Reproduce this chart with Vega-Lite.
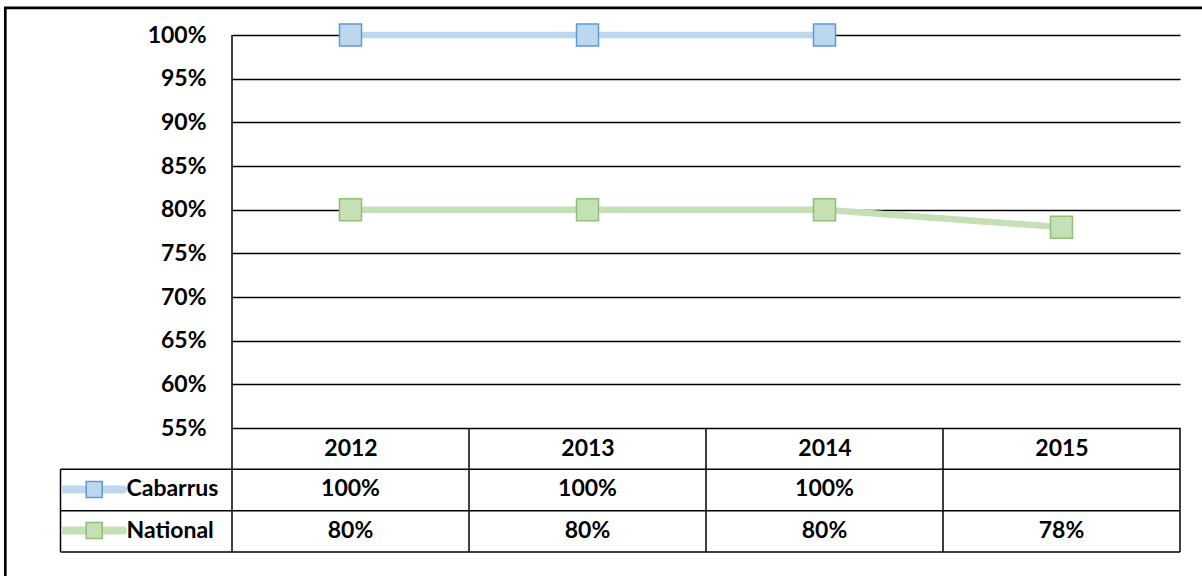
{
  "$schema": "https://vega.github.io/schema/vega-lite/v6.json",
  "width": 948,
  "height": 393,
  "autosize": {"type": "none"},
  "padding": {"left": 232, "top": 35, "right": 22, "bottom": 148},
  "background": "white",
  "config": {"view": {"stroke": null}, "font": "Lato"},
  "datasets": {
    "vals": [
      {"year": 2012, "series": "Cabarrus", "value": 1.0},
      {"year": 2013, "series": "Cabarrus", "value": 1.0},
      {"year": 2014, "series": "Cabarrus", "value": 1.0},
      {"year": 2012, "series": "National", "value": 0.8},
      {"year": 2013, "series": "National", "value": 0.8},
      {"year": 2014, "series": "National", "value": 0.8},
      {"year": 2015, "series": "National", "value": 0.78}
    ],
    "years": [{"year": 2012}, {"year": 2013}, {"year": 2014}, {"year": 2015}],
    "one": [{"k": 1}],
    "cab": [{"series": "Cabarrus"}],
    "nat": [{"series": "National"}]
  },
  "layer": [
    {
      "data": {"name": "vals"},
      "mark": {"type": "line", "strokeWidth": 6.5},
      "encoding": {
        "x": {
          "field": "year", "type": "quantitative",
          "scale": {"domain": [2011.5, 2015.5], "nice": false, "zero": false},
          "axis": {
            "title": null, "values": [2012, 2013, 2014, 2015], "format": "d",
            "labelFontSize": 23, "labelFontWeight": "bold", "labelColor": "black", "labelFont": "Lato",
            "ticks": false, "domain": false, "grid": false, "labelPadding": 20, "labelBaseline": "middle", "labelFlush": false
          }
        },
        "y": {
          "field": "value", "type": "quantitative",
          "scale": {"domain": [0.55, 1.0], "nice": false, "zero": false},
          "axis": {
            "title": null, "values": [0.55, 0.6, 0.65, 0.7, 0.75, 0.8, 0.85, 0.9, 0.95, 1.0], "format": ".0%",
            "grid": true, "gridColor": "black", "gridWidth": 1.5, "gridOpacity": 1,
            "ticks": false, "domain": false, "labelFontSize": 23, "labelFontWeight": "bold",
            "labelColor": "black", "labelFont": "Lato", "labelPadding": 26, "labelFlush": false
          }
        },
        "color": {
          "field": "series", "type": "nominal",
          "scale": {"domain": ["Cabarrus", "National"], "range": ["#BDD7EE", "#C5E0B4"]},
          "legend": null
        }
      }
    },
    {
      "data": {"name": "vals"},
      "mark": {"type": "point", "shape": "square", "size": 484, "filled": true, "strokeWidth": 1.5, "opacity": 1, "fillOpacity": 1, "strokeOpacity": 1},
      "encoding": {
        "x": {"field": "year", "type": "quantitative", "title": null},
        "y": {"field": "value", "type": "quantitative", "title": null},
        "fill": {"field": "series", "type": "nominal", "scale": {"domain": ["Cabarrus", "National"], "range": ["#BDD7EE", "#C5E0B4"]}, "legend": null},
        "stroke": {"field": "series", "type": "nominal", "scale": {"domain": ["Cabarrus", "National"], "range": ["#5B9BD5", "#8FC078"]}, "legend": null}
      }
    },
    {
      "data": {"name": "one"},
      "mark": {"type": "rect", "fillOpacity": 0, "stroke": "black", "strokeWidth": 2.7},
      "encoding": {
        "x": {"datum": 2010.5435, "type": "quantitative"},
        "x2": {"datum": 2015.8},
        "y": {"datum": 1.0311, "type": "quantitative"},
        "y2": {"datum": 0.3}
      }
    },
    {
      "data": {"name": "years"},
      "mark": {"type": "rule", "xOffset": 118.5, "color": "black", "strokeWidth": 1.5},
      "encoding": {
        "x": {"field": "year", "type": "quantitative", "title": null},
        "y": {"datum": 0.55, "type": "quantitative"},
        "y2": {"datum": 0.408}
      }
    },
    {
      "data": {"name": "one"},
      "mark": {"type": "rule", "color": "black", "strokeWidth": 1.5},
      "encoding": {
        "x": {"datum": 2011.5, "type": "quantitative"},
        "y": {"datum": 1.0, "type": "quantitative"},
        "y2": {"datum": 0.408}
      }
    },
    {
      "data": {"name": "one"},
      "mark": {"type": "rule", "color": "black", "strokeWidth": 1.5},
      "encoding": {
        "x": {"datum": 2010.7764, "type": "quantitative"},
        "y": {"datum": 0.5027, "type": "quantitative"},
        "y2": {"datum": 0.408}
      }
    },
    {
      "data": {"name": "one"},
      "mark": {"type": "rule", "color": "black", "strokeWidth": 1.5},
      "encoding": {
        "x": {"datum": 2010.7764, "type": "quantitative"},
        "x2": {"datum": 2015.5},
        "y": {"datum": 0.5027, "type": "quantitative"}
      }
    },
    {
      "data": {"name": "one"},
      "mark": {"type": "rule", "color": "black", "strokeWidth": 1.5},
      "encoding": {
        "x": {"datum": 2010.7764, "type": "quantitative"},
        "x2": {"datum": 2015.5},
        "y": {"datum": 0.4553, "type": "quantitative"}
      }
    },
    {
      "data": {"name": "one"},
      "mark": {"type": "rule", "color": "black", "strokeWidth": 1.5},
      "encoding": {
        "x": {"datum": 2010.7764, "type": "quantitative"},
        "x2": {"datum": 2015.5},
        "y": {"datum": 0.408, "type": "quantitative"}
      }
    },
    {
      "data": {"name": "vals"},
      "transform": [{"filter": "datum.series === 'Cabarrus'"}],
      "mark": {"type": "text", "fontSize": 23, "fontWeight": "bold", "font": "Lato", "color": "black", "align": "center", "baseline": "middle"},
      "encoding": {
        "x": {"field": "year", "type": "quantitative", "title": null},
        "y": {"datum": 0.4796, "type": "quantitative"},
        "text": {"field": "value", "type": "quantitative", "format": ".0%"}
      }
    },
    {
      "data": {"name": "vals"},
      "transform": [{"filter": "datum.series === 'National'"}],
      "mark": {"type": "text", "fontSize": 23, "fontWeight": "bold", "font": "Lato", "color": "black", "align": "center", "baseline": "middle"},
      "encoding": {
        "x": {"field": "year", "type": "quantitative", "title": null},
        "y": {"datum": 0.4326, "type": "quantitative"},
        "text": {"field": "value", "type": "quantitative", "format": ".0%"}
      }
    },
    {
      "data": {"name": "one"},
      "mark": {"type": "rule", "color": "#BDD7EE", "strokeWidth": 8, "strokeCap": "round"},
      "encoding": {
        "x": {"datum": 2010.7954, "type": "quantitative"},
        "x2": {"datum": 2011.0401},
        "y": {"datum": 0.4796, "type": "quantitative"}
      }
    },
    {
      "data": {"name": "one"},
      "mark": {"type": "rule", "color": "#C5E0B4", "strokeWidth": 8, "strokeCap": "round"},
      "encoding": {
        "x": {"datum": 2010.7954, "type": "quantitative"},
        "x2": {"datum": 2011.0401},
        "y": {"datum": 0.4326, "type": "quantitative"}
      }
    },
    {
      "data": {"name": "one"},
      "mark": {"type": "point", "shape": "square", "size": 256, "filled": true, "fill": "#BDD7EE", "stroke": "#5B9BD5", "strokeWidth": 1.5, "opacity": 1},
      "encoding": {
        "x": {"datum": 2010.9186, "type": "quantitative"},
        "y": {"datum": 0.4796, "type": "quantitative"}
      }
    },
    {
      "data": {"name": "one"},
      "mark": {"type": "point", "shape": "square", "size": 256, "filled": true, "fill": "#C5E0B4", "stroke": "#8FC078", "strokeWidth": 1.5, "opacity": 1},
      "encoding": {
        "x": {"datum": 2010.9186, "type": "quantitative"},
        "y": {"datum": 0.4326, "type": "quantitative"}
      }
    },
    {
      "data": {"name": "cab"},
      "mark": {"type": "text", "fontSize": 23, "fontWeight": "bold", "font": "Lato", "color": "black", "align": "left", "baseline": "middle"},
      "encoding": {
        "x": {"datum": 2011.0549, "type": "quantitative"},
        "y": {"datum": 0.4796, "type": "quantitative"},
        "text": {"field": "series", "type": "nominal"}
      }
    },
    {
      "data": {"name": "nat"},
      "mark": {"type": "text", "fontSize": 23, "fontWeight": "bold", "font": "Lato", "color": "black", "align": "left", "baseline": "middle"},
      "encoding": {
        "x": {"datum": 2011.0549, "type": "quantitative"},
        "y": {"datum": 0.4326, "type": "quantitative"},
        "text": {"field": "series", "type": "nominal"}
      }
    }
  ]
}
